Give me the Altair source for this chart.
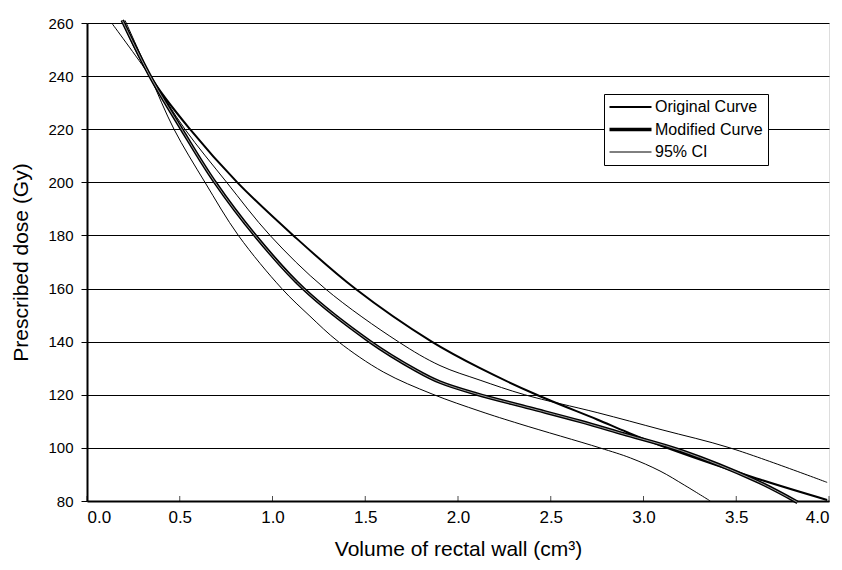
import altair as alt
import pandas as pd

# ---- data ----
series_order = ["Original Curve", "Modified Curve", "95% CI"]

orig_vol = [0.19, 0.34, 0.555, 0.81, 1.112, 1.445, 1.858, 2.119, 2.424, 2.75, 2.909, 3.089, 3.61, 3.99]
orig_dose = [261, 240, 220, 200, 180, 160, 140, 130, 120, 110.7, 106, 101, 88.5, 80.4]

mod_vol = [0.19, 0.34, 0.51, 0.69, 0.906, 1.166, 1.526, 1.775, 1.903, 2.10, 2.388, 2.658, 2.89, 3.2, 3.61, 3.83]
mod_dose = [261, 240, 220, 200, 180, 160, 140, 129.2, 124.75, 120.3, 115, 110, 105.3, 99, 87.5, 79.5]

ci_up_vol = [0.133, 0.34, 0.528, 0.753, 0.987, 1.283, 1.678, 1.903, 2.119, 2.36, 2.75, 3.1, 3.466, 3.99]
ci_up_dose = [260, 240, 220, 200, 180, 160, 140, 131, 125.5, 120, 113.3, 106.8, 100, 87]

ci_lo_vol = [0.205, 0.34, 0.469, 0.636, 0.816, 1.05, 1.202, 1.355, 1.597, 1.86, 2.119, 2.334, 2.765, 2.93, 3.089, 3.22, 3.36]
ci_lo_dose = [261, 240, 220, 200, 180, 160, 149.6, 140, 128.6, 120.3, 113.8, 109, 100, 96.2, 91.3, 86, 80]

x_ticks = [0.0, 0.5, 1.0, 1.5, 2.0, 2.5, 3.0, 3.5, 4.0]
y_ticks = [80, 100, 120, 140, 160, 180, 200, 220, 240, 260]

rows = []
for name, line, vs, ds in [
    ("Original Curve", "orig", orig_vol, orig_dose),
    ("Modified Curve", "mod", mod_vol, mod_dose),
    ("95% CI", "ci_up", ci_up_vol, ci_up_dose),
    ("95% CI", "ci_lo", ci_lo_vol, ci_lo_dose),
]:
    for v, d in zip(vs, ds):
        rows.append({"series": name, "line": line, "vol": v, "dose": d})
df = pd.DataFrame(rows)
ticks_df = pd.DataFrame({"vol": x_ticks, "dose": [80] * len(x_ticks)})

FONT = "Liberation Sans"

x_enc = alt.X(
    "vol:Q",
    scale=alt.Scale(domain=[0, 4], nice=False, zero=False),
    axis=alt.Axis(
        values=x_ticks, format=".1f", title="Volume of rectal wall (cm³)",
        grid=False, ticks=False, labelPadding=8, labelFontSize=17,
        titleFontSize=21, titlePadding=13, titleFontWeight="normal",
        domainColor="black", domainWidth=2, labelColor="black", titleColor="black",
        labelFont=FONT, titleFont=FONT,
    ),
)
y_enc = alt.Y(
    "dose:Q",
    scale=alt.Scale(domain=[80, 260], nice=False, zero=False),
    axis=alt.Axis(
        values=y_ticks, title="Prescribed dose (Gy)", grid=True,
        gridColor="black", gridWidth=1.1, gridOpacity=1,
        tickColor="black", tickSize=6, tickWidth=1, labelPadding=8,
        labelFontSize=15, titleFontSize=21, titlePadding=16, titleFontWeight="normal",
        domainColor="black", domainWidth=2, labelColor="black", titleColor="black",
        labelFont=FONT, titleFont=FONT,
    ),
)

legend = alt.Legend(
    title=None, orient="none", legendX=517, legendY=71,
    strokeColor="black", fillColor="white", padding=5,
    symbolType="stroke", symbolSize=1764, clipHeight=16, rowPadding=6.5,
    labelFontSize=16, labelFont=FONT, labelColor="black", labelOffset=3,
    symbolStrokeColor="black",
    symbolStrokeWidth=alt.ExprRef(
        expr="(datum.value === 'Modified Curve' ? 3.6 : (datum.value === 'Original Curve' ? 2 : 1))"
    ),
)

color = alt.Color("series:N", scale=alt.Scale(domain=series_order, range=["black", "black", "black"]),
                  legend=legend)

base = alt.Chart(df)
INTERP = "catmull-rom"

orig_line = base.transform_filter(alt.datum.series == "Original Curve").mark_line(
    interpolate=INTERP, strokeWidth=2).encode(x=x_enc, y=y_enc, color=color, detail="line:N")
ci_lines = base.transform_filter(alt.datum.series == "95% CI").mark_line(
    interpolate=INTERP, strokeWidth=1).encode(x="vol:Q", y="dose:Q", color=color, detail="line:N")
mod_line = base.transform_filter(alt.datum.series == "Modified Curve").mark_line(
    interpolate=INTERP, strokeWidth=3.6).encode(x="vol:Q", y="dose:Q", color=color, detail="line:N")
core = base.transform_filter(alt.datum.series == "Modified Curve").mark_line(
    interpolate=INTERP, color="#9a9a9a", strokeWidth=1).encode(x="vol:Q", y="dose:Q")

xticks = alt.Chart(ticks_df).mark_tick(
    orient="vertical", size=5, thickness=1, color="black", yOffset=-2.5
).encode(x="vol:Q", y="dose:Q")

chart = alt.layer(orig_line, ci_lines, mod_line, core, xticks).properties(
    width=742, height=478,
    autosize=alt.AutoSizeParams(type="none"),
    padding={"left": 79, "top": 15, "right": 5, "bottom": 61},
).configure_view(
    stroke="black", strokeWidth=1.5
).configure(background="white")

chart.save("out.html", embed_options={"renderer": "svg", "actions": False})
